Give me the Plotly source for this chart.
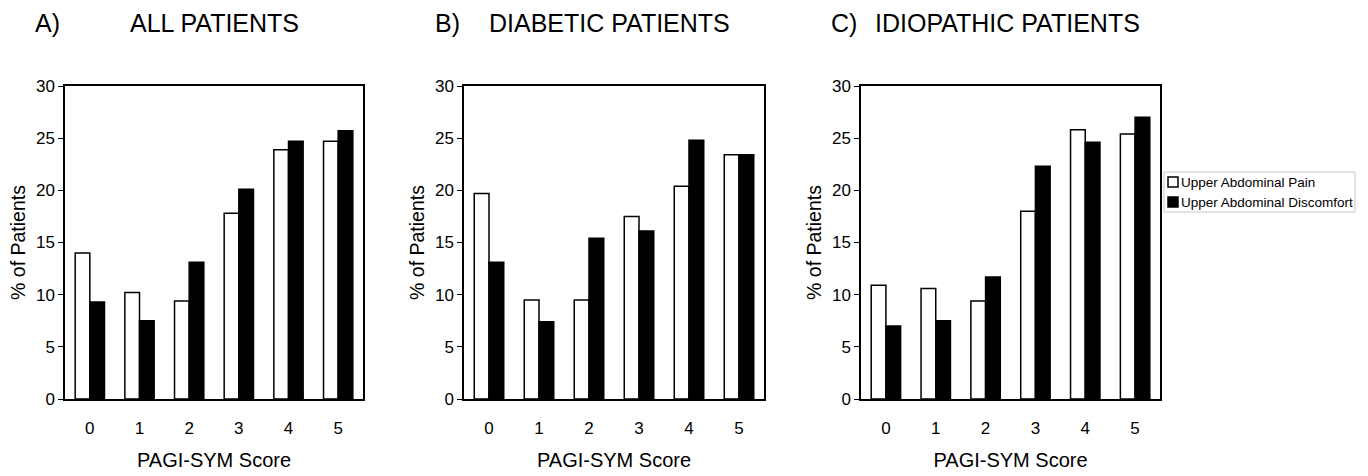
import plotly.graph_objects as go
from plotly.subplots import make_subplots

scores = [0, 1, 2, 3, 4, 5]
panel_titles = ["A)", "B)", "C)"]
panel_names = ["ALL PATIENTS", "DIABETIC PATIENTS", "IDIOPATHIC PATIENTS"]
series_names = ["Upper Abdominal Pain", "Upper Abdominal Discomfort"]
series_colors = ["white", "black"]

pain_all = [14.0, 10.2, 9.4, 17.8, 23.9, 24.7]
disc_all = [9.3, 7.5, 13.1, 20.1, 24.7, 25.7]
pain_diab = [19.7, 9.5, 9.5, 17.5, 20.4, 23.4]
disc_diab = [13.1, 7.4, 15.4, 16.1, 24.8, 23.4]
pain_idio = [10.9, 10.6, 9.4, 18.0, 25.8, 25.4]
disc_idio = [7.0, 7.5, 11.7, 22.3, 24.6, 27.0]

y_ticks = [0, 5, 10, 15, 20, 25, 30]

pain_sets = [pain_all, pain_diab, pain_idio]
disc_sets = [disc_all, disc_diab, disc_idio]

W, H = 1368, 476
FONT = "Liberation Sans, Arial, sans-serif"

fig = make_subplots(rows=1, cols=3)

for i in range(3):
    fig.add_trace(go.Bar(x=scores, y=pain_sets[i], name=series_names[0],
                         marker=dict(color=series_colors[0], line=dict(color="black", width=1.5)),
                         showlegend=False, legendgroup="pain"), row=1, col=i + 1)
    fig.add_trace(go.Bar(x=scores, y=disc_sets[i], name=series_names[1],
                         marker=dict(color=series_colors[1], line=dict(color="black", width=1.5)),
                         showlegend=False, legendgroup="disc"), row=1, col=i + 1)

# pixel domains
xdoms = [(65, 363), (464, 764), (861, 1160)]
ytop, ybot = 86, 399
ydom = [1 - ybot / H, 1 - ytop / H]

for i in range(3):
    xa = "xaxis" if i == 0 else f"xaxis{i+1}"
    ya = "yaxis" if i == 0 else f"yaxis{i+1}"
    fig.layout[xa].update(
        domain=[xdoms[i][0] / W, xdoms[i][1] / W], automargin=False,
        range=[-0.5, 5.5], tickmode="array", tickvals=scores,
        ticktext=[str(s) for s in scores],
        showline=True, linecolor="black", linewidth=1.5, mirror=True,
        showgrid=False, zeroline=False, ticks="", ticklabelstandoff=13,
        tickfont=dict(size=17, color="black", family=FONT),
        title=dict(text="PAGI-SYM Score", font=dict(size=20, color="black", family=FONT), standoff=16),
    )
    fig.layout[ya].update(
        domain=ydom, range=[0, 30], tickmode="array", tickvals=y_ticks, automargin=False,
        showline=True, linecolor="black", linewidth=1.5, mirror=True,
        showgrid=False, zeroline=False, ticks="outside", ticklen=5, tickcolor="black", tickwidth=1,
        tickfont=dict(size=17, color="black", family=FONT),
        title=dict(text="% of Patients", font=dict(size=19.5, color="black", family=FONT), standoff=5),
    )

label_x = [33, 433, 829]
name_x = [128, 487, 873]
for i in range(3):
    fig.add_annotation(x=label_x[i] / W, y=1 - 23 / H, xref="paper", yref="paper",
                       text=panel_titles[i], showarrow=False, xanchor="left", yanchor="middle",
                       font=dict(size=25, color="black", family=FONT))
    fig.add_annotation(x=name_x[i] / W, y=1 - 23 / H, xref="paper", yref="paper",
                       text=panel_names[i], showarrow=False, xanchor="left", yanchor="middle",
                       font=dict(size=25, color="black", family=FONT))

# legend box (drawn in paper space, right of panel C)
lx0, lx1, ly0, ly1 = 1164, 1355, 172, 212
fig.add_shape(type="rect", xref="paper", yref="paper",
              x0=lx0 / W, x1=lx1 / W, y0=1 - ly1 / H, y1=1 - ly0 / H,
              line=dict(color="#c8c8c8", width=1), fillcolor="white")
row_y = [182, 202]
for k in range(2):
    fig.add_shape(type="rect", xref="paper", yref="paper",
                  x0=1168 / W, x1=1178 / W, y0=1 - (row_y[k] + 5) / H, y1=1 - (row_y[k] - 5) / H,
                  line=dict(color="black", width=1.5), fillcolor=series_colors[k])
    fig.add_annotation(x=1179 / W, y=1 - row_y[k] / H, xref="paper", yref="paper",
                       text=series_names[k], showarrow=False, xanchor="left", yanchor="middle",
                       font=dict(size=13.5, color="black", family=FONT))

fig.update_layout(
    width=W, height=H,
    margin=dict(l=0, r=0, t=0, b=0),
    paper_bgcolor="white", plot_bgcolor="white",
    barmode="group", bargap=0.41, bargroupgap=0,
    font=dict(family=FONT, color="black"),
    showlegend=False,
)

fig.write_html("out.html", config={"displayModeBar": False},
               post_script="document.body.style.margin='0';document.body.style.overflow='hidden';")
